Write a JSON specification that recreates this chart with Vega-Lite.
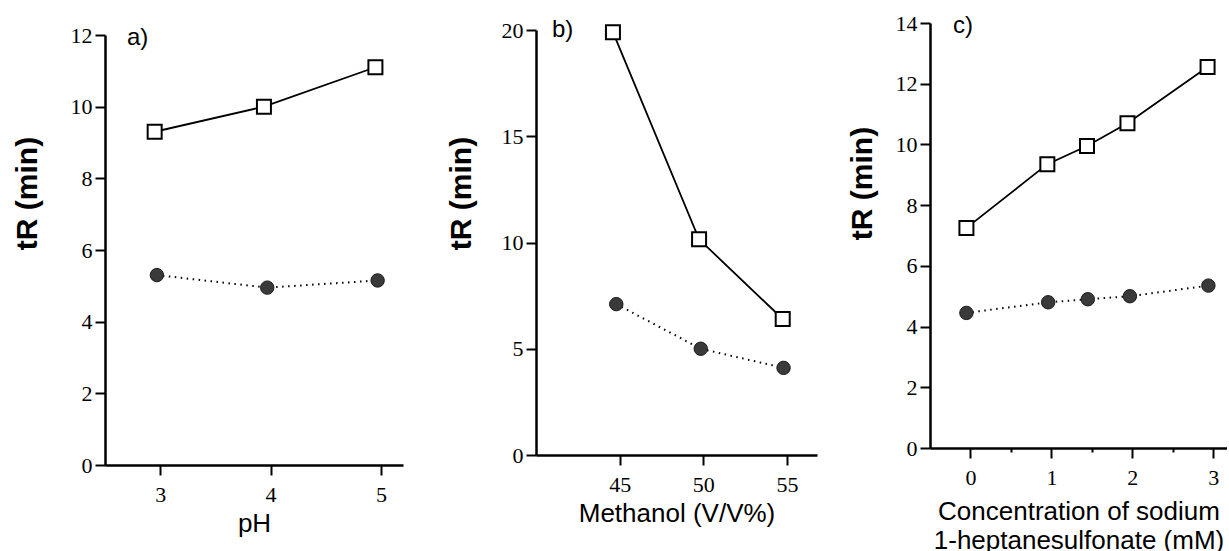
{
  "$schema": "https://vega.github.io/schema/vega-lite/v6.json",
  "background": "white",
  "padding": {"left": 12, "top": 12, "right": 0, "bottom": 0},
  "config": {
    "view": {"stroke": null},
    "font": "Liberation Sans",
    "axis": {
      "domainColor": "black", "domainWidth": 2.5,
      "tickColor": "black", "tickWidth": 2, "tickSize": 10,
      "labelFont": "Liberation Serif", "labelFontSize": 22, "labelColor": "black",
      "labelFlush": false, "labelOverlap": false,
      "grid": false,
      "titleFont": "Liberation Sans", "titleColor": "black"
    },
    "axisX": {"labelPadding": 9, "titleFontSize": 26, "titleFontWeight": "normal", "titlePadding": 10, "titleLineHeight": 29},
    "axisY": {"labelPadding": 3, "titleFontSize": 30, "titleFontWeight": "bold", "titleBaseline": "middle", "titleAlign": "center"},
    "title": {"font": "Liberation Sans", "fontSize": 24, "fontWeight": "normal", "anchor": "start", "frame": "group", "color": "black", "baseline": "middle", "offset": 0}
  },
  "datasets": {
    "a": [
      {"x": 2.95, "y": 9.3, "s": "sq"}, {"x": 3.94, "y": 10.0, "s": "sq"}, {"x": 4.95, "y": 11.1, "s": "sq"},
      {"x": 2.97, "y": 5.3, "s": "ci"}, {"x": 3.97, "y": 4.95, "s": "ci"}, {"x": 4.97, "y": 5.15, "s": "ci"}
    ],
    "b": [
      {"x": 44.6, "y": 19.9, "s": "sq"}, {"x": 49.75, "y": 10.15, "s": "sq"}, {"x": 54.75, "y": 6.4, "s": "sq"},
      {"x": 44.8, "y": 7.1, "s": "ci"}, {"x": 49.85, "y": 5.0, "s": "ci"}, {"x": 54.8, "y": 4.1, "s": "ci"}
    ],
    "c": [
      {"x": -0.05, "y": 7.25, "s": "sq"}, {"x": 0.95, "y": 9.35, "s": "sq"}, {"x": 1.44, "y": 9.95, "s": "sq"}, {"x": 1.94, "y": 10.7, "s": "sq"}, {"x": 2.93, "y": 12.55, "s": "sq"},
      {"x": -0.05, "y": 4.45, "s": "ci"}, {"x": 0.96, "y": 4.8, "s": "ci"}, {"x": 1.45, "y": 4.9, "s": "ci"}, {"x": 1.97, "y": 5.0, "s": "ci"}, {"x": 2.94, "y": 5.35, "s": "ci"}
    ]
  },
  "center": true,
  "spacing": 43,
  "hconcat": [
    {
      "width": 298, "height": 430,
      "title": {"text": "a)", "dx": 22, "dy": 30},
      "data": {"name": "a"},
      "encoding": {
        "x": {"field": "x", "type": "quantitative", "scale": {"domain": [2.5, 5.2], "nice": false, "zero": false}, "axis": {"values": [3, 4, 5], "title": ["pH", " "], "titlePadding": 5, "titleLineHeight": 5}},
        "y": {"field": "y", "type": "quantitative", "scale": {"domain": [0, 12], "nice": false}, "axis": {"values": [0, 2, 4, 6, 8, 10, 12], "title": "tR (min)", "titleX": -78, "titleY": 158}}
      },
      "layer": [
        {"transform": [{"filter": "datum.s == 'sq'"}], "mark": {"type": "line", "color": "black", "strokeWidth": 1.8}},
        {"transform": [{"filter": "datum.s == 'ci'"}], "mark": {"type": "line", "color": "black", "strokeWidth": 2, "strokeDash": [1.5, 4.5]}},
        {"transform": [{"filter": "datum.s == 'sq'"}], "mark": {"type": "point", "shape": "square", "size": 196, "filled": true, "fill": "white", "stroke": "black", "strokeWidth": 2, "opacity": 1}},
        {"transform": [{"filter": "datum.s == 'ci'"}], "mark": {"type": "point", "shape": "circle", "size": 180, "filled": true, "fill": "#3a3a3a", "stroke": "#1a1a1a", "strokeWidth": 1, "opacity": 1}}
      ]
    },
    {
      "spacing": 30,
      "center": true,
      "hconcat": [
        {
          "width": 281, "height": 425,
          "title": {"text": "b)", "dx": 16, "dy": 27},
          "data": {"name": "b"},
          "encoding": {
            "x": {"field": "x", "type": "quantitative", "scale": {"domain": [40, 56.8], "nice": false, "zero": false}, "axis": {"values": [45, 50, 55], "title": ["Methanol (V/V%)", " "], "titlePadding": 5, "titleLineHeight": 20}},
            "y": {"field": "y", "type": "quantitative", "scale": {"domain": [0, 20], "nice": false}, "axis": {"values": [0, 5, 10, 15, 20], "title": "tR (min)", "titleX": -75, "titleY": 163}}
          },
          "layer": [
            {"transform": [{"filter": "datum.s == 'sq'"}], "mark": {"type": "line", "color": "black", "strokeWidth": 1.8}},
            {"transform": [{"filter": "datum.s == 'ci'"}], "mark": {"type": "line", "color": "black", "strokeWidth": 2, "strokeDash": [1.5, 4.5]}},
            {"transform": [{"filter": "datum.s == 'sq'"}], "mark": {"type": "point", "shape": "square", "size": 196, "filled": true, "fill": "white", "stroke": "black", "strokeWidth": 2, "opacity": 1}},
            {"transform": [{"filter": "datum.s == 'ci'"}], "mark": {"type": "point", "shape": "circle", "size": 180, "filled": true, "fill": "#3a3a3a", "stroke": "#1a1a1a", "strokeWidth": 1, "opacity": 1}}
          ]
        },
        {
          "width": 297, "height": 425,
          "title": {"text": "c)", "dx": 23, "dy": 30},
          "data": {"name": "c"},
          "encoding": {
            "x": {"field": "x", "type": "quantitative", "scale": {"domain": [-0.5, 3.17], "nice": false, "zero": false},
              "axis": {"values": [0, 0.5, 1, 1.5, 2, 2.5, 3], "labelExpr": "datum.value % 1 == 0 ? format(datum.value, 'd') : ''",
                "tickSize": {"condition": {"test": "datum.value % 1 != 0", "value": 4}, "value": 10},
                "title": ["Concentration of sodium", "1-heptanesulfonate (mM)"]}},
            "y": {"field": "y", "type": "quantitative", "scale": {"domain": [0, 14], "nice": false}, "axis": {"values": [0, 2, 4, 6, 8, 10, 12, 14], "title": "tR (min)", "titleX": -68, "titleY": 160}}
          },
          "layer": [
            {"transform": [{"filter": "datum.s == 'sq'"}], "mark": {"type": "line", "color": "black", "strokeWidth": 1.8}},
            {"transform": [{"filter": "datum.s == 'ci'"}], "mark": {"type": "line", "color": "black", "strokeWidth": 2, "strokeDash": [1.5, 4.5]}},
            {"transform": [{"filter": "datum.s == 'sq'"}], "mark": {"type": "point", "shape": "square", "size": 196, "filled": true, "fill": "white", "stroke": "black", "strokeWidth": 2, "opacity": 1}},
            {"transform": [{"filter": "datum.s == 'ci'"}], "mark": {"type": "point", "shape": "circle", "size": 180, "filled": true, "fill": "#3a3a3a", "stroke": "#1a1a1a", "strokeWidth": 1, "opacity": 1}}
          ]
        }
      ]
    }
  ]
}
